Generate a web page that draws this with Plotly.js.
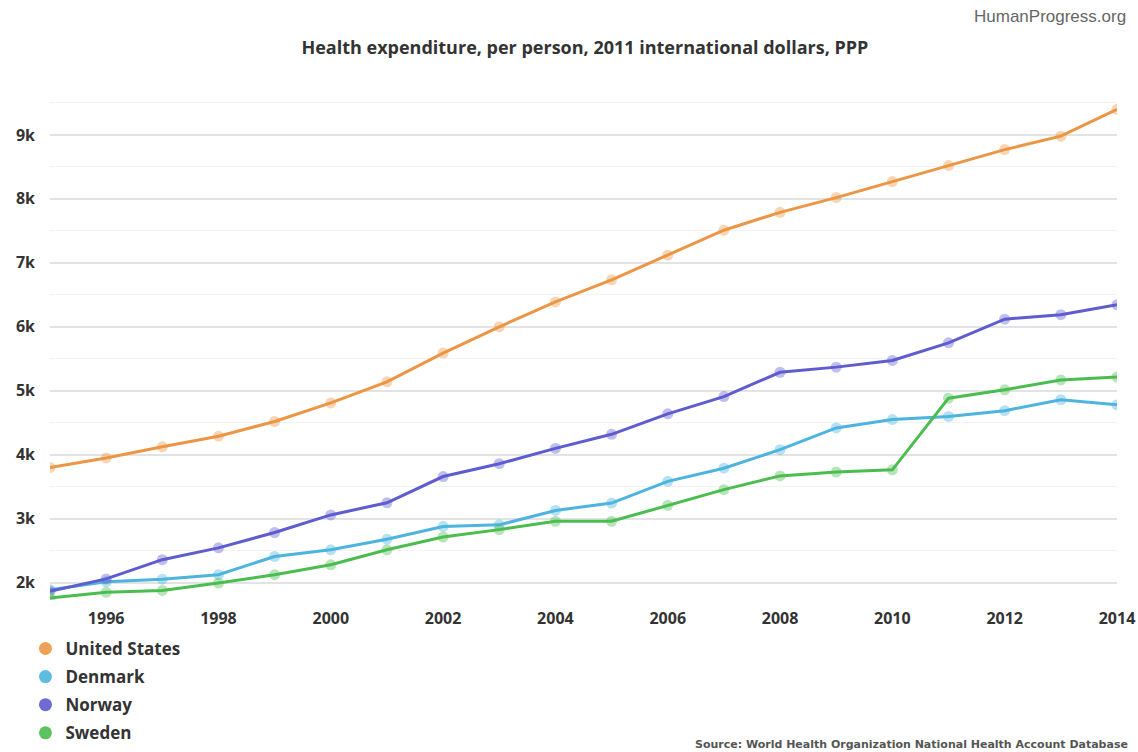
<!DOCTYPE html>
<html>
<head>
<meta charset="utf-8">
<script src="https://cdn.plot.ly/plotly-3.0.1.min.js"></script>
<style>html,body{margin:0;padding:0;background:#fff;}#chart{width:1138px;height:752px;}</style>
</head>
<body>
<div id="chart"></div>
<script>
var years = [1995,1996,1997,1998,1999,2000,2001,2002,2003,2004,2005,2006,2007,2008,2009,2010,2011,2012,2013,2014];
var unitedStates = [3800,3950,4125,4290,4520,4810,5140,5590,6000,6390,6735,7120,7510,7790,8020,8270,8520,8770,8980,9400];
var denmark = [1890,2015,2055,2125,2410,2515,2680,2880,2905,3130,3245,3585,3790,4080,4420,4550,4600,4690,4860,4780];
var norway = [1865,2060,2360,2545,2785,3060,3250,3660,3860,4100,4320,4640,4910,5290,5370,5475,5750,6120,6190,6345];
var sweden = [1760,1850,1880,1995,2125,2280,2515,2715,2830,2960,2960,3210,3455,3670,3730,3765,4885,5015,5170,5215];
var seriesNames = ['United States','Denmark','Norway','Sweden'];
var seriesColors = ['#ec9645','#4cb4df','#5e5ccf','#4bbd4f'];
var seriesValues = [unitedStates, denmark, norway, sweden];
var xTickVals = [1996,1998,2000,2002,2004,2006,2008,2010,2012,2014];
var yTickVals = [2000,3000,4000,5000,6000,7000,8000,9000];
var yTickText = ['2k','3k','4k','5k','6k','7k','8k','9k'];

var traces = [];
seriesNames.forEach(function(n,i){
  traces.push({
    x: years, y: seriesValues[i], name: n, type: 'scatter', mode: 'lines+markers',
    showlegend: false, legendgroup: 'g' + i,
    line: {color: seriesColors[i], width: 3},
    marker: {color: seriesColors[i], size: 11, opacity: 0.4, line: {width: 0}}
  });
});
seriesNames.forEach(function(n,i){
  traces.push({
    x: [null], y: [null], name: n, type: 'scatter', mode: 'markers',
    showlegend: true, legendgroup: 'g' + i,
    marker: {color: seriesColors[i], size: 13, opacity: 0.9}
  });
});

var layout = {
  width: 1138, height: 752,
  margin: {l: 50, r: 21, t: 101, b: 152, autoexpand: false},
  paper_bgcolor: '#ffffff', plot_bgcolor: '#ffffff',
  font: {family: 'Open Sans, sans-serif', color: '#333'},
  title: {text: '<b>Health expenditure, per person, 2011 international dollars, PPP</b>',
    font: {size: 18, color: '#333', family: 'Open Sans, sans-serif'},
    x: 0.514, xanchor: 'center', y: 0.937, yanchor: 'middle'},
  showlegend: true,
  legend: {x: -0.023, y: -0.062, xanchor: 'left', yanchor: 'top', orientation: 'v',
    font: {size: 17, color: '#333', family: 'Open Sans, sans-serif', weight: 'bold'},
    itemwidth: 30, tracegroupgap: 3, bgcolor: 'rgba(0,0,0,0)'},
  xaxis: {range: [1995, 2014], tickvals: xTickVals, showgrid: false, zeroline: false,
    showline: false, ticks: '', ticklabelstandoff: 7, tickfont: {size: 16, color: '#333', weight: 'bold'},
    automargin: false, fixedrange: true},
  yaxis: {range: [1730, 9530], tickvals: yTickVals, ticktext: yTickText,
    showgrid: true, gridcolor: '#e3e3e3', gridwidth: 2, zeroline: false, showline: false,
    ticks: '', ticklabelstandoff: 14, tickfont: {size: 16, color: '#333', weight: 'bold'},
    minor: {dtick: 500, tick0: 1500, showgrid: true, gridcolor: '#f3f3f3', gridwidth: 1, ticks: ''},
    automargin: false, fixedrange: true},
  annotations: [
    {text: 'HumanProgress.org', xref: 'paper', yref: 'paper', x: 1.01, y: 1.17,
      xanchor: 'right', yanchor: 'middle', showarrow: false,
      font: {size: 17, color: '#666', family: 'Liberation Sans, Arial, sans-serif'}},
    {text: '<b>Source: World Health Organization National Health Account Database</b>',
      xref: 'paper', yref: 'paper', x: 1.012, y: -0.29, xanchor: 'right', yanchor: 'middle',
      showarrow: false, font: {size: 11, color: '#555', family: 'DejaVu Sans, sans-serif'}}
  ]
};

Plotly.newPlot('chart', traces, layout, {displayModeBar: false, staticPlot: true});
</script>
</body>
</html>
